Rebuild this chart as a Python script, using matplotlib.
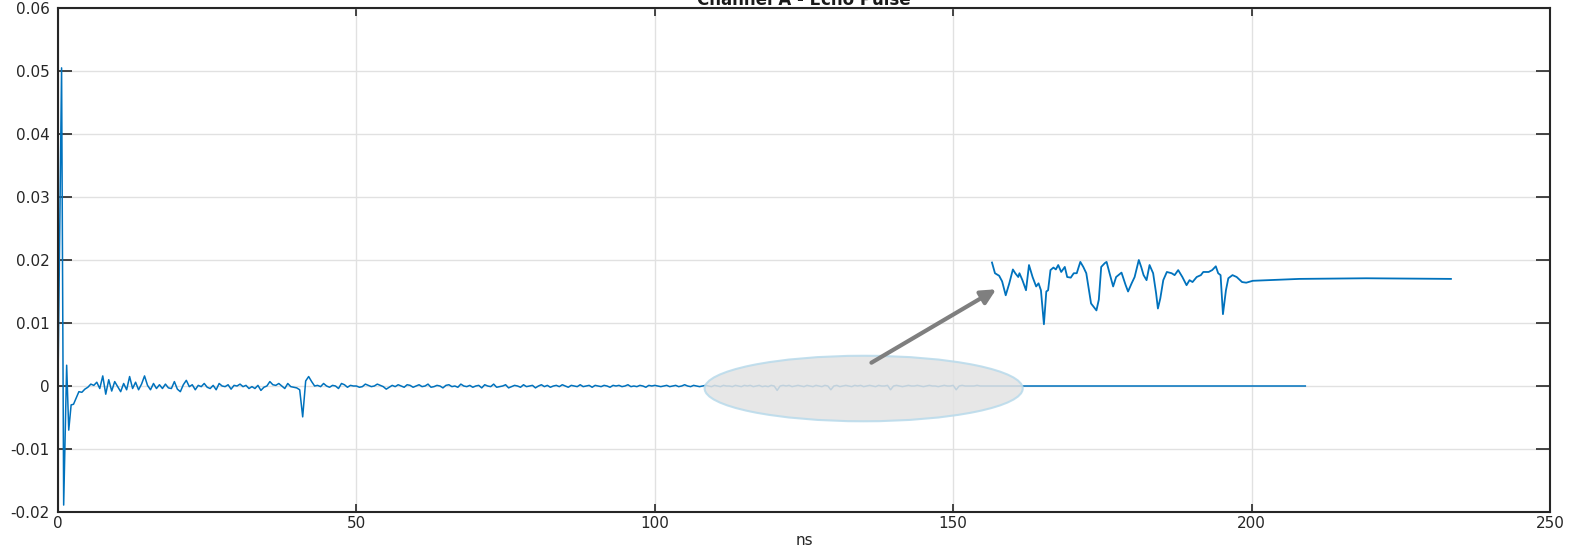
import matplotlib
matplotlib.use("Agg")
import matplotlib.pyplot as plt
import numpy as np
from matplotlib.patches import Ellipse, FancyArrowPatch

# Echo pulse trace, values in units of 1e-4
RING_T = [0.0, 0.6, 0.95, 1.45, 1.8, 2.2, 2.6]
RING_V = [5, 505, -189, 33, -70, -30, -29]

# 3.0 .. 60.0 ns, 0.5 ns step
EARLY_V = [
    -20, -9, -10, -5, -2, 3, 1, 6, -4, 16,
    -13, 10, -8, 7, -1, -9, 4, -6, 15, -4,
    6, -6, 3, 16, 1, -6, 4, -4, 2, -4,
    3, -3, -4, 7, -5, -9, 2, 9, -1, 2,
    -6, 1, -1, 4, -2, -4, 1, -6, 4, 0,
    -1, 2, -5, 1, 0, 3, -1, 1, -4, -1,
    -4, 1, -7, -2, 0, 7, 2, 1, 4, 0,
    -4, 4, -1, -2, -3, -6, -49, 8, 15, 7,
    0, 1, -1, 4, 0, -2, 1, 0, -4, 4,
    2, -2, 1, 0, 0, -2, -1, 3, 1, -1,
    0, 3, 1, -1, -5, -2, 1, -1, 2, 0,
    -2, 2, 1, -2, 0,
]
# 60.5 .. 108.0 ns, 0.5 ns step
MID_V = [
    2, -1, 0, 3, -2, -1, 1, 0, -3, 1, 2, -1, 0, -2, 3, 0, -1, 1, -2, 0,
    1, -3, 2, 0, -1, 3, -2, -1, 0, 2, -3, -1, 1, 0, -2, 2, -1, 0, 1, -3,
    0, 2, -1, 1, -2, 0, 1, -1, 2, 0, -2, 1, 0, -1, 2, -1, 0, 1, -2, 1,
    0, -1, 1, 0, -2, 1, 0, 1, -1, 0, 2, -1, 0, -1, 1, 0, -2, 1, 0, 1,
    0, -1, 0, 1, -1, 0, 1, -1, 0, 2, 0, -1, 1, 0, -1, 0,
]
# 108.5 .. 162.0 ns, 0.5 ns step
QUIET_V = [
    1, 0, -1, 1, 0, -1, 1, 0, 0, -1, 1, 0, -1, 1,
    0, 1, -1, 0, 1, -1, 0, -1, 1, 0, -7, 0, 1, 0,
    1, -1, 0, 1, 0, -1, 1, 0, -1, 1, 0, -1, 1, 0,
    -6, 0, 1, -1, 0, 1, 0, -1, 1, 0, 1, -1, 0, 1,
    0, -1, 1, 0, 0, 1, -6, 0, 1, 0, -1, 0, 1, 0,
    0, 1, 0, -1, 0, 1, 0, 0, -1, 0, 1, 0, 0, 1,
    -6, 0, 1, 0, 0, 0, 0, 1, 0, 0, 0, 0,
    0, 0, 0, 0, 0, 0, 0, 0, 0, 0, 0, 0,
]
TAIL_T = [170.0, 185.0, 200.0, 209.0]
TAIL_V = [0, 0, 0, 0]

# Magnified view of the 108-162 ns window, values in units of 1e-4
INSET_T = [
    156.5, 157.0, 157.7, 158.2, 158.8, 159.4, 160.0, 160.4, 160.9, 161.1,
    161.6, 162.2, 162.7, 163.3, 163.9, 164.3, 164.7, 165.2, 165.6, 165.9,
    166.3, 166.8, 167.2, 167.6, 168.1, 168.7, 169.1, 169.7, 170.2, 170.7,
    171.3, 171.8, 172.3, 173.1, 174.0, 174.4, 174.8, 175.4, 175.7, 176.2,
    176.8, 177.3, 178.2, 178.9, 179.3, 179.9, 180.4, 181.1, 181.5, 181.9,
    182.4, 182.9, 183.5, 184.0, 184.3, 184.7, 185.2, 185.8, 186.6, 187.1,
    187.7, 188.4, 189.1, 189.6, 190.1, 190.8, 191.5, 191.9, 192.8, 193.4,
    194.0, 194.4, 194.8, 195.2, 195.7, 196.1, 196.8, 197.5, 198.4, 199.1,
    200.2, 208.0, 219.2, 233.4,
]
INSET_V = [
    196, 179, 175, 166, 144, 163, 185, 179, 173, 179,
    168, 152, 192, 173, 158, 163, 152, 98, 150, 152,
    184, 188, 185, 192, 181, 189, 173, 172, 179, 179,
    197, 189, 179, 131, 120, 137, 189, 195, 197, 179,
    158, 173, 180, 160, 150, 163, 173, 200, 189, 176,
    168, 192, 179, 147, 123, 139, 168, 181, 179, 176,
    184, 173, 160, 168, 165, 173, 176, 181, 181, 184,
    190, 179, 176, 114, 152, 171, 176, 173, 165, 164,
    167, 170, 171, 170,
]

X_TICKS = [0, 50, 100, 150, 200, 250]
Y_TICKS = [-0.02, -0.01, 0, 0.01, 0.02, 0.03, 0.04, 0.05, 0.06]
Y_TICK_LABELS = ["-0.02", "-0.01", "0", "0.01", "0.02", "0.03", "0.04", "0.05", "0.06"]

BLUE = "#0072BD"
INK = "#262626"

t = np.concatenate([
    RING_T,
    np.arange(3.0, 60.01, 0.5),
    np.arange(60.5, 108.01, 0.5),
    np.arange(108.5, 162.01, 0.5),
    TAIL_T,
])
v = np.concatenate([RING_V, EARLY_V, MID_V, QUIET_V, TAIL_V]) * 1e-4

plt.rcParams["font.family"] = ["DejaVu Sans"]
fig = plt.figure(figsize=(15.69, 5.49), dpi=100)
ax = fig.add_axes([58 / 1569, 37 / 549, 1492 / 1569, 504 / 549])

ax.plot(t, v, color=BLUE, lw=1.1, zorder=2)
ax.plot(INSET_T, np.array(INSET_V) * 1e-4, color=BLUE, lw=1.3, zorder=2)

# highlight of the quiet window
ax.add_patch(Ellipse((135.0, -0.0004), 53.3, 0.0104, facecolor="#e3e3e3",
                     edgecolor="#b8daeb", lw=1.5, alpha=0.85, zorder=3))
ax.add_patch(FancyArrowPatch((136.3, 0.0037), (157.2, 0.01535),
                             arrowstyle="-|>", mutation_scale=22,
                             color="#7f7f7f", lw=3.0, zorder=4,
                             shrinkA=0, shrinkB=0))

ax.set_xlim(0, 250)
ax.set_ylim(-0.02, 0.06)
ax.set_xticks(X_TICKS)
ax.set_yticks(Y_TICKS)
ax.set_yticklabels(Y_TICK_LABELS)
ax.grid(True, color="#e1e1e1", lw=1.0, zorder=0)
ax.set_axisbelow(True)
ax.tick_params(axis="both", direction="in", top=True, right=True,
               colors=INK, labelsize=11, width=1.2)
ax.tick_params(axis="x", length=6, pad=3)
ax.tick_params(axis="y", length=10, pad=6)
for s in ax.spines.values():
    s.set_color(INK)
    s.set_linewidth(1.5)

ax.set_xlabel("ns", fontsize=11, color=INK, labelpad=1)
fig.text(0.5125, 1 - 5 / 549, "Channel A - Echo Pulse", ha="center",
         va="baseline", fontsize=12, fontweight="bold", color="#1a1a1a")

fig.savefig("out.png", dpi=100)
